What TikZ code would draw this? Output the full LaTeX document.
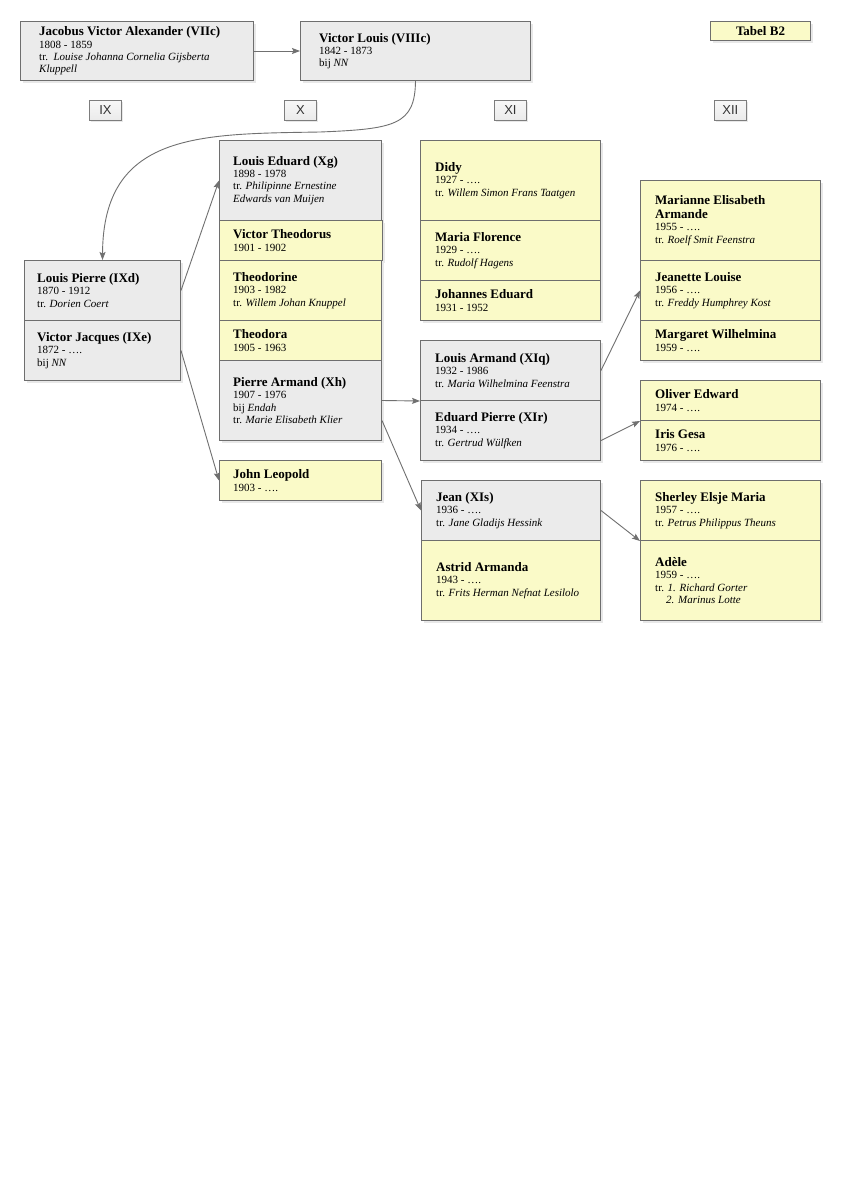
\documentclass[tikz,border=0pt]{standalone}
\usepackage{fontspec}
\setmainfont{Liberation Serif}
\newfontfamily\lblfont{Liberation Sans}
\usetikzlibrary{arrows.meta}
\definecolor{cardgray}{HTML}{EBEBEB}
\definecolor{cardyel}{HTML}{FAFAC8}
\definecolor{cardline}{HTML}{6E6E6E}
\definecolor{connline}{HTML}{707070}
\definecolor{lbltext}{HTML}{333333}
\newcommand\nm[1]{{\fontsize{13}{14}\selectfont\bfseries #1}}
\tikzset{
  shd/.style={preaction={draw=none,fill=black!9,transform canvas={xshift=2pt,yshift=-2pt}}},
  cardbase/.style={draw=cardline,line width=1pt,inner sep=0pt,shd},
  graycard/.style={cardbase,fill=cardgray},
  yelcard/.style={cardbase,fill=cardyel},
  txt/.style={inner sep=0pt,align=left,font=\fontsize{11}{12.3}\selectfont,text=black},
  gen/.style={draw=cardline!90,line width=0.8pt,inner sep=0pt,minimum width=32pt,minimum height=20pt,
    top color=white!97!black,bottom color=white!92!black,shd,
    font=\lblfont\fontsize{13}{14}\selectfont,text=lbltext,anchor=north west},
  conn/.style={draw=connline,line width=0.9pt,-{Stealth[length=8pt,width=6pt,inset=1.5pt]}}
}
% id, x, y, w, h, style, text offset, text
\newcommand\famcard[8]{%
  \node[#6,minimum width=#4,minimum height=#5,anchor=north west] (#1) at (#2,#3) {};
  \node[txt,anchor=west] (#1-t) at ([xshift=#7]#1.west) {#8};
}
\begin{document}
\begin{tikzpicture}[x=1pt,y=-1pt]
\useasboundingbox[fill=white] (0,0) rectangle (841,1189);

% top row
\famcard{jac}{20}{21}{233pt}{59pt}{graycard}{19pt}{\nm{Jacobus Victor Alexander (VIIc)}\\1808 - 1859\\tr.\ \ \textit{Louise Johanna Cornelia Gijsberta}\\\textit{Kluppell}}
\famcard{vl}{300}{21}{230pt}{59pt}{graycard}{19pt}{\nm{Victor Louis (VIIIc)}\\1842 - 1873\\bij \textit{NN}}
\node[yelcard,minimum width=100pt,minimum height=19pt,anchor=north west,font=\fontsize{13}{14}\selectfont\bfseries] (tab) at (710,21) {Tabel B2};

% generation labels
\node[gen] (gIX) at (89,100) {IX};
\node[gen] (gX) at (284,100) {X};
\node[gen] (gXI) at (494,100) {XI};
\node[gen] (gXII) at (714,100) {XII};

% generation IX
\famcard{lp}{24}{260}{156pt}{60pt}{graycard}{13pt}{\nm{Louis Pierre (IXd)}\\1870 - 1912\\tr. \textit{Dorien Coert}}
\famcard{vj}{24}{320}{156pt}{60pt}{graycard}{13pt}{\nm{Victor Jacques (IXe)}\\1872 - ….\\bij \textit{NN}}

% generation X
\famcard{le}{219}{140}{162pt}{80pt}{graycard}{14pt}{\nm{Louis Eduard (Xg)}\\1898 - 1978\\tr. \textit{Philipinne Ernestine}\\\textit{Edwards van Muijen}}
\famcard{vt}{219}{220}{163pt}{40pt}{yelcard}{14pt}{\nm{Victor Theodorus}\\1901 - 1902}
\famcard{tdn}{219}{260}{162pt}{60pt}{yelcard}{14pt}{\nm{Theodorine}\\1903 - 1982\\tr. \textit{Willem Johan Knuppel}}
\famcard{tda}{219}{320}{162pt}{40pt}{yelcard}{14pt}{\nm{Theodora}\\1905 - 1963}
\famcard{pa}{219}{360}{162pt}{80pt}{graycard}{14pt}{\nm{Pierre Armand (Xh)}\\1907 - 1976\\bij \textit{Endah}\\tr. \textit{Marie Elisabeth Klier}}
\famcard{jl}{219}{460}{162pt}{40pt}{yelcard}{14pt}{\nm{John Leopold}\\1903 - ….}

% generation XI
\famcard{didy}{420}{140}{180pt}{80pt}{yelcard}{15pt}{\nm{Didy}\\1927 - ….\\tr. \textit{Willem Simon Frans Taatgen}}
\famcard{mf}{420}{220}{180pt}{60pt}{yelcard}{15pt}{\nm{Maria Florence}\\1929 - ….\\tr. \textit{Rudolf Hagens}}
\famcard{je}{420}{280}{180pt}{40pt}{yelcard}{15pt}{\nm{Johannes Eduard}\\1931 - 1952}
\famcard{la}{420}{340}{180pt}{60pt}{graycard}{15pt}{\nm{Louis Armand (XIq)}\\1932 - 1986\\tr. \textit{Maria Wilhelmina Feenstra}}
\famcard{ep}{420}{400}{180pt}{60pt}{graycard}{15pt}{\nm{Eduard Pierre (XIr)}\\1934 - ….\\tr. \textit{Gertrud Wülfken}}
\famcard{jean}{421}{480}{179pt}{60pt}{graycard}{15pt}{\nm{Jean (XIs)}\\1936 - ….\\tr. \textit{Jane Gladijs Hessink}}
\famcard{astrid}{421}{540}{179pt}{80pt}{yelcard}{15pt}{\nm{Astrid Armanda}\\1943 - ….\\tr. \textit{Frits Herman Nefnat Lesilolo}}

% generation XII
\famcard{mar}{640}{180}{180pt}{80pt}{yelcard}{15pt}{\nm{Marianne Elisabeth}\\[1.5pt]\nm{Armande}\\1955 - ….\\tr. \textit{Roelf Smit Feenstra}}
\famcard{jea}{640}{260}{180pt}{60pt}{yelcard}{15pt}{\nm{Jeanette Louise}\\1956 - ….\\tr. \textit{Freddy Humphrey Kost}}
\famcard{marg}{640}{320}{180pt}{40pt}{yelcard}{15pt}{\nm{Margaret Wilhelmina}\\1959 - ….}
\famcard{ol}{640}{380}{180pt}{40pt}{yelcard}{15pt}{\nm{Oliver Edward}\\1974 - ….}
\famcard{iris}{640}{420}{180pt}{40pt}{yelcard}{15pt}{\nm{Iris Gesa}\\1976 - ….}
\famcard{sh}{640}{480}{180pt}{60pt}{yelcard}{15pt}{\nm{Sherley Elsje Maria}\\1957 - ….\\tr. \textit{Petrus Philippus Theuns}}
\famcard{ad}{640}{540}{180pt}{80pt}{yelcard}{15pt}{\nm{Adèle}\\1959 - ….\\tr. \textit{1. Richard Gorter}\\\hspace*{11pt}\textit{2. Marinus Lotte}}

% connectors
\coordinate (cmid) at (320,132);
\draw[conn] (jac.east) -- (vl.west);
\draw[conn] (vl.south) .. controls (415,125) and (395,129) .. (cmid)
   .. controls (200,134) and (103,132) .. (lp.north);
\draw[conn] (lp.east) -- (le.west);
\draw[conn] (vj.east) -- (jl.west);
\draw[conn] (pa.east) -- (la.south west);
\draw[conn] ([yshift=-20pt]pa.east) -- (jean.west);
\draw[conn] (la.east) -- (jea.west);
\draw[conn] ([yshift=-10pt]ep.east) -- (ol.south west);
\draw[conn] (jean.east) -- (sh.south west);
\end{tikzpicture}
\end{document}
